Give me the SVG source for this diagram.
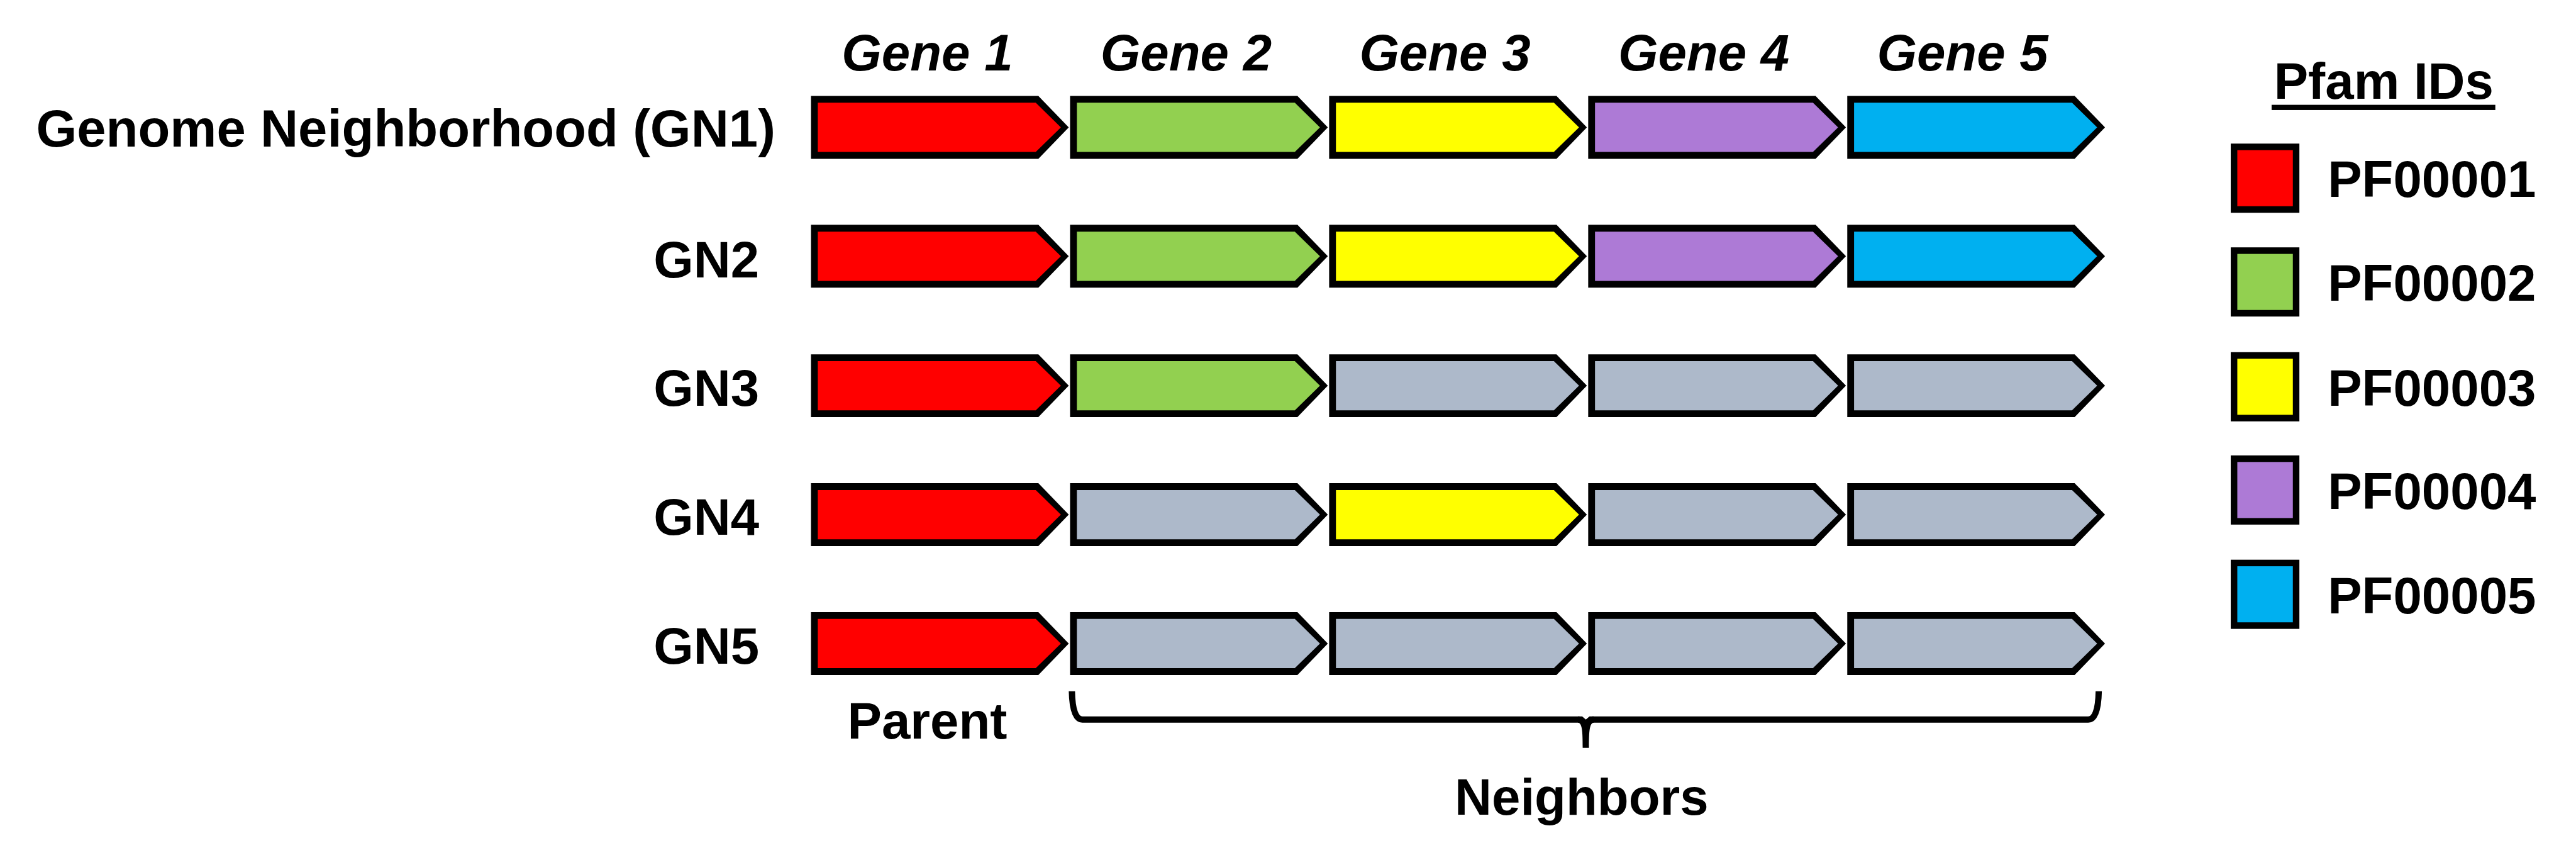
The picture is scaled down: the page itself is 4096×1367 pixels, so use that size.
<svg xmlns="http://www.w3.org/2000/svg" xmlns:xlink="http://www.w3.org/1999/xlink" width="4096" height="1367" viewBox="0 0 4096 1367">
<style>
text{font-family:"Liberation Sans",Arial,sans-serif;font-weight:bold;font-size:98px;fill:#000}
.it{font-style:italic}
.big{font-size:100px}
.red{fill:#FF0000}.grn{fill:#92D050}.yel{fill:#FFFF00}.pur{fill:#AD7AD6}.blu{fill:#00B0F0}.gry{fill:#ADB9CA}
.key{stroke:#000;stroke-width:12.5}
</style>
<defs>
<g id="gene"><polygon points="0,0 434,0 492,60 434,120 0,120" fill="#000"/><polygon points="13,13 429,13 477,60 429,107 13,107"/></g>
</defs>
<rect width="4096" height="1367" fill="#fff"/>
<g transform="scale(0.83303)">
<g id="headers">
<text class="it" x="1770" y="135" text-anchor="middle">Gene 1</text>
<text class="it" x="2264" y="135" text-anchor="middle">Gene 2</text>
<text class="it" x="2758" y="135" text-anchor="middle">Gene 3</text>
<text class="it" x="3252" y="135" text-anchor="middle">Gene 4</text>
<text class="it" x="3746" y="135" text-anchor="middle">Gene 5</text>
</g>
<g id="row-labels">
<text class="big" x="1480" y="280" text-anchor="end">Genome Neighborhood (GN1)</text>
<text x="1449" y="529" text-anchor="end">GN2</text>
<text x="1449" y="774" text-anchor="end">GN3</text>
<text x="1449" y="1020" text-anchor="end">GN4</text>
<text x="1449" y="1266" text-anchor="end">GN5</text>
</g>
<g id="gn1">
<g id="gn1-g1"><use xlink:href="#gene" x="1548" y="183" class="red"/></g>
<g id="gn1-g2"><use xlink:href="#gene" x="2042.5" y="183" class="grn"/></g>
<g id="gn1-g3"><use xlink:href="#gene" x="2537" y="183" class="yel"/></g>
<g id="gn1-g4"><use xlink:href="#gene" x="3031.5" y="183" class="pur"/></g>
<g id="gn1-g5"><use xlink:href="#gene" x="3526" y="183" class="blu"/></g>
</g>
<g id="gn2">
<g id="gn2-g1"><use xlink:href="#gene" x="1548" y="429" class="red"/></g>
<g id="gn2-g2"><use xlink:href="#gene" x="2042.5" y="429" class="grn"/></g>
<g id="gn2-g3"><use xlink:href="#gene" x="2537" y="429" class="yel"/></g>
<g id="gn2-g4"><use xlink:href="#gene" x="3031.5" y="429" class="pur"/></g>
<g id="gn2-g5"><use xlink:href="#gene" x="3526" y="429" class="blu"/></g>
</g>
<g id="gn3">
<g id="gn3-g1"><use xlink:href="#gene" x="1548" y="676" class="red"/></g>
<g id="gn3-g2"><use xlink:href="#gene" x="2042.5" y="676" class="grn"/></g>
<g id="gn3-g3"><use xlink:href="#gene" x="2537" y="676" class="gry"/></g>
<g id="gn3-g4"><use xlink:href="#gene" x="3031.5" y="676" class="gry"/></g>
<g id="gn3-g5"><use xlink:href="#gene" x="3526" y="676" class="gry"/></g>
</g>
<g id="gn4">
<g id="gn4-g1"><use xlink:href="#gene" x="1548" y="922" class="red"/></g>
<g id="gn4-g2"><use xlink:href="#gene" x="2042.5" y="922" class="gry"/></g>
<g id="gn4-g3"><use xlink:href="#gene" x="2537" y="922" class="yel"/></g>
<g id="gn4-g4"><use xlink:href="#gene" x="3031.5" y="922" class="gry"/></g>
<g id="gn4-g5"><use xlink:href="#gene" x="3526" y="922" class="gry"/></g>
</g>
<g id="gn5">
<g id="gn5-g1"><use xlink:href="#gene" x="1548" y="1168" class="red"/></g>
<g id="gn5-g2"><use xlink:href="#gene" x="2042.5" y="1168" class="gry"/></g>
<g id="gn5-g3"><use xlink:href="#gene" x="2537" y="1168" class="gry"/></g>
<g id="gn5-g4"><use xlink:href="#gene" x="3031.5" y="1168" class="gry"/></g>
<g id="gn5-g5"><use xlink:href="#gene" x="3526" y="1168" class="gry"/></g>
</g>
<g id="connectors">
<path d="M2046,1319 Q2047,1373 2066,1373 L3015,1373" fill="none" stroke="#000" stroke-width="12"/>
<path d="M3039,1373 L3986,1373 Q4005,1373 4006,1319" fill="none" stroke="#000" stroke-width="12"/>
<path d="M3012,1367 L3020,1367 L3027,1373 L3034,1367 L3042,1367 L3042,1379 C3034,1380 3033,1395 3033,1427 L3021,1427 C3021,1395 3020,1380 3012,1379 Z" fill="#000"/>
</g>
<g id="bottom-labels">
<text x="1770" y="1409" text-anchor="middle">Parent</text>
<text x="3019" y="1555" text-anchor="middle">Neighbors</text>
</g>
<g id="legend">
<text x="4550" y="189" text-anchor="middle">Pfam IDs</text>
<rect x="4336" y="200" width="427" height="10" fill="#000"/>
<g id="key-pf00001"><rect class="key red" x="4264.25" y="280.25" width="118.5" height="119.5"/><text x="4443" y="376">PF00001</text></g>
<g id="key-pf00002"><rect class="key grn" x="4264.25" y="478.25" width="118.5" height="119.5"/><text x="4443" y="574">PF00002</text></g>
<g id="key-pf00003"><rect class="key yel" x="4264.25" y="678.25" width="118.5" height="119.5"/><text x="4443" y="774">PF00003</text></g>
<g id="key-pf00004"><rect class="key pur" x="4264.25" y="875.25" width="118.5" height="119.5"/><text x="4443" y="971">PF00004</text></g>
<g id="key-pf00005"><rect class="key blu" x="4264.25" y="1074.25" width="118.5" height="119.5"/><text x="4443" y="1170">PF00005</text></g>
</g>
</g>
</svg>
